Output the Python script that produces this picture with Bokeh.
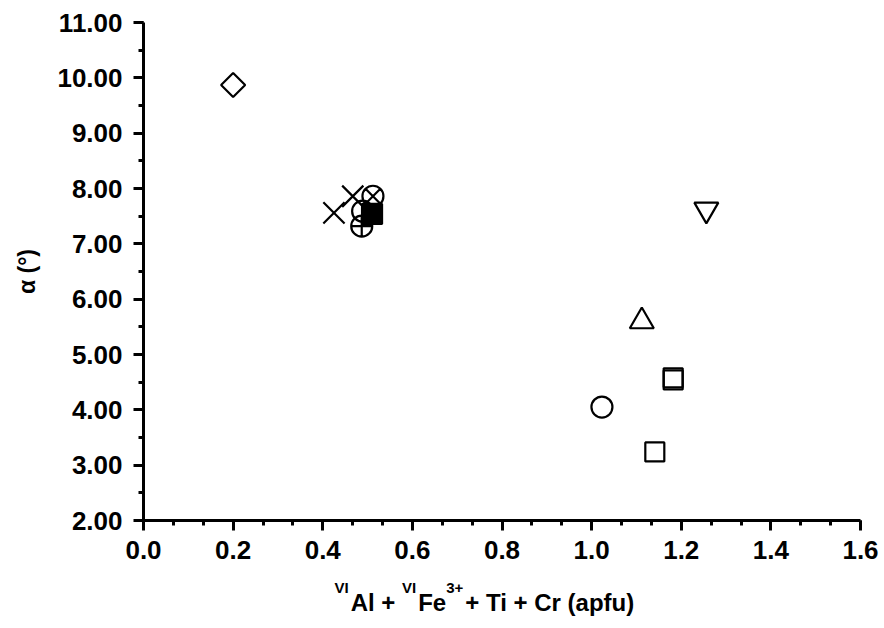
from bokeh.plotting import figure
from bokeh.models import Range1d, FixedTicker, NumeralTickFormatter
from bokeh.layouts import column
from bokeh.core.properties import value
from bokeh.embed import file_html
from bokeh.resources import INLINE
import math

# ---- data ----
diamond_x = [0.20]
diamond_y = [9.87]
cross_x = [0.425, 0.467]
cross_y = [7.56, 7.86]
circle_x_mark_x = [0.512]
circle_x_mark_y = [7.86]
circle_x = [0.489, 1.023]
circle_y = [7.59, 4.05]
circle_cross_x = [0.487]
circle_cross_y = [7.32]
filled_square_x = [0.510]
filled_square_y = [7.54]
square_x = [1.182, 1.182, 1.141]
square_y = [4.58, 4.54, 3.24]
triangle_x = [1.112]
triangle_y = [5.60]
inv_triangle_x = [1.256]
inv_triangle_y = [7.62]

x_major = [0.0, 0.2, 0.4, 0.6, 0.8, 1.0, 1.2, 1.4, 1.6]
x_minor = [i / 15 for i in range(0, 25)]
y_major = [2, 3, 4, 5, 6, 7, 8, 9, 10, 11]
y_minor = [2 + i * 0.5 for i in range(0, 19)]

x_label_pieces = ["VI", "Al + ", "VI", "Fe", "3+", " + Ti + Cr (apfu)"]
x_label_is_sup = [True, False, True, False, True, False]
y_label = "α (°)"

FONT = "Liberation Sans"
W, H_MAIN, H_LAB = 884, 575, 53
BL, BR = 143, 24

p = figure(width=W, height=H_MAIN, output_backend="svg", toolbar_location=None,
           x_range=Range1d(0, 1.6), y_range=Range1d(2, 11),
           min_border_left=BL, min_border_right=BR, min_border_top=22, min_border_bottom=55)
p.outline_line_color = None
p.xgrid.visible = False
p.ygrid.visible = False
p.background_fill_color = "white"
p.border_fill_color = "white"

for ax in (p.xaxis[0], p.yaxis[0]):
    ax.axis_line_width = 3
    ax.major_tick_line_width = 3
    ax.minor_tick_line_width = 3
    ax.major_tick_in = 0
    ax.minor_tick_in = 0
    ax.major_tick_out = 10
    ax.minor_tick_out = 5
    ax.major_label_text_font = FONT
    ax.major_label_text_font_style = "bold"
    ax.major_label_text_font_size = "26px"
    ax.major_label_text_color = "black"
    ax.axis_line_color = "black"
    ax.major_tick_line_color = "black"
    ax.minor_tick_line_color = "black"

p.xaxis[0].ticker = FixedTicker(ticks=x_major, minor_ticks=x_minor)
p.yaxis[0].ticker = FixedTicker(ticks=y_major, minor_ticks=y_minor)
p.xaxis[0].formatter = NumeralTickFormatter(format="0.0")
p.yaxis[0].formatter = NumeralTickFormatter(format="0.00")
p.xaxis[0].major_label_standoff = 10
p.yaxis[0].major_label_standoff = 11

p.yaxis[0].axis_label = y_label
p.yaxis[0].axis_label_text_font = FONT
p.yaxis[0].axis_label_text_font_style = "bold"
p.yaxis[0].axis_label_text_font_size = "23px"
p.yaxis[0].axis_label_text_color = "black"
p.yaxis[0].axis_label_standoff = 14

LW = 2.2
p.scatter(diamond_x, diamond_y, marker="square", size=17, angle=math.pi / 4,
          fill_color=None, line_color="black", line_width=LW)
p.scatter(cross_x, cross_y, marker="x", size=30, line_color="black", line_width=LW)
p.scatter(circle_x_mark_x, circle_x_mark_y, marker="circle_x", size=21,
          fill_color=None, line_color="black", line_width=LW)
p.scatter(circle_x, circle_y, marker="circle", size=21,
          fill_color=None, line_color="black", line_width=LW)
p.scatter(circle_cross_x, circle_cross_y, marker="circle_cross", size=21,
          fill_color=None, line_color="black", line_width=LW)
p.scatter(filled_square_x, filled_square_y, marker="square", size=20,
          fill_color="black", line_color="black", line_width=LW)
p.scatter(square_x, square_y, marker="square", size=19,
          fill_color=None, line_color="black", line_width=LW)
p.scatter(triangle_x, triangle_y, marker="triangle", size=24,
          fill_color=None, line_color="black", line_width=LW)
p.scatter(inv_triangle_x, inv_triangle_y, marker="inverted_triangle", size=24,
          fill_color=None, line_color="black", line_width=LW)

# ---- x axis label strip (text with superscripts) ----
MAIN, SMALL = 24, 15
em = {"VI": 0.945, "Al + ": 2.140, "Fe": 1.167, "3+": 1.140, " + Ti + Cr (apfu)": 7.335}
q = figure(width=W, height=H_LAB, output_backend="svg", toolbar_location=None,
           x_range=Range1d(BL, W - BR), y_range=Range1d(0, H_LAB),
           min_border_left=BL, min_border_right=BR, min_border_top=0, min_border_bottom=0)
q.axis.visible = False
q.grid.visible = False
q.outline_line_color = None
q.background_fill_color = "white"
q.border_fill_color = "white"

xs_main, ys_main, t_main = [], [], []
xs_sup, ys_sup, t_sup = [], [], []
xpos = 334.0
for txt, sup in zip(x_label_pieces, x_label_is_sup):
    if sup:
        xs_sup.append(xpos); ys_sup.append(H_LAB - 12); t_sup.append(txt)
        xpos += em[txt] * SMALL + 2
    else:
        xs_main.append(xpos); ys_main.append(H_LAB - 27); t_main.append(txt)
        xpos += em[txt] * MAIN

q.text(xs_main, ys_main, text=t_main, text_font=value(FONT), text_font_style="bold",
       text_font_size=f"{MAIN}px", text_baseline="alphabetic", text_align="left",
       text_color="black")
q.text(xs_sup, ys_sup, text=t_sup, text_font=value(FONT), text_font_style="bold",
       text_font_size=f"{SMALL}px", text_baseline="alphabetic", text_align="left",
       text_color="black")

layout = column(p, q, spacing=0)
open("out.html", "w").write(file_html(layout, INLINE))
